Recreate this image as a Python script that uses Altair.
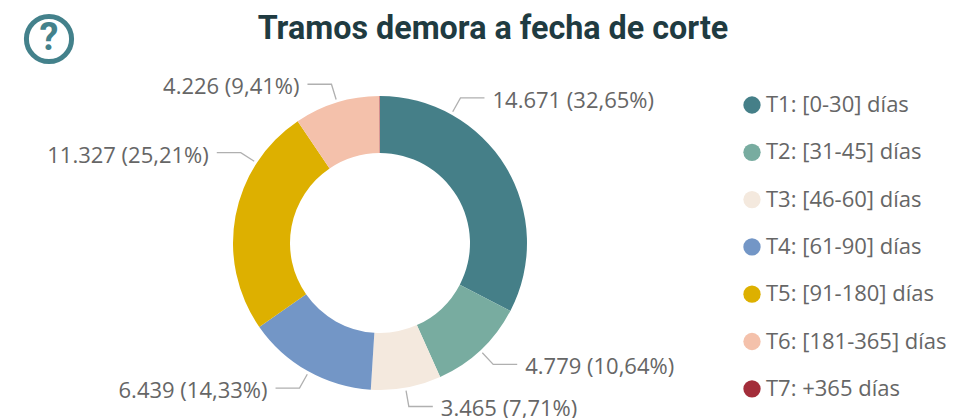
import math
import altair as alt
import pandas as pd

categories = ["T1: [0-30] días", "T2: [31-45] días", "T3: [46-60] días", "T4: [61-90] días",
              "T5: [91-180] días", "T6: [181-365] días", "T7: +365 días"]
values = [14671, 4779, 3465, 6439, 11327, 4226, 24]
labels = ["14.671 (32,65%)", "4.779 (10,64%)", "3.465 (7,71%)", "6.439 (14,33%)",
          "11.327 (25,21%)", "4.226 (9,41%)"]
colors = ["#457F88", "#78ACA0", "#F4E9DE", "#7396C6", "#DDB000", "#F4C1AB", "#A32D3A"]
leader_angles = [29, 137, 170, 209, 303, 343]
title = "Tramos demora a fecha de corte"

PAD_TOP = 50
CX, CY = 372, 235 - PAD_TOP
R_OUT, R_IN = 147, 90

df = pd.DataFrame({"cat": categories, "val": values, "ord": range(7)})
scale_color = alt.Scale(domain=categories, range=colors)

donut = alt.Chart(df).mark_arc(outerRadius=R_OUT, innerRadius=R_IN, stroke=None).encode(
    theta=alt.Theta("val:Q", stack=True),
    color=alt.Color("cat:N", scale=scale_color, sort=categories, legend=alt.Legend(
        title=None, orient="none", legendX=733, legendY=36, symbolType="circle",
        symbolSize=300, symbolStrokeWidth=0, labelFont="Open Sans", labelFontSize=22,
        labelColor="#666666", rowPadding=25.3, labelOffset=3, labelLimit=220)),
    order=alt.Order("ord:Q"),
    x=alt.value(CX), y=alt.value(CY),
)

rows, texts = [], []
for i, (a, lab) in enumerate(zip(leader_angles, labels)):
    t = math.radians(a)
    sx = 1 if math.sin(t) > 0 else -1
    x0, y0 = CX + (R_OUT + 3) * math.sin(t), CY - (R_OUT + 3) * math.cos(t)
    x1, y1 = CX + (R_OUT + 19) * math.sin(t), CY - (R_OUT + 19) * math.cos(t)
    x2, y2 = x1 + sx * 24, y1
    rows += [dict(g=i, k=0, x=x0, y=y0), dict(g=i, k=1, x=x1, y=y1), dict(g=i, k=2, x=x2, y=y2)]
    texts.append(dict(x=x2 + sx * 8, y=y2, t=lab, a="left" if sx > 0 else "right"))

leaders = alt.Chart(pd.DataFrame(rows)).mark_line(color="#B0B0B0", strokeWidth=1.3).encode(
    x=alt.X("x:Q", scale=None), y=alt.Y("y:Q", scale=None), detail="g:N", order="k:Q")

tdf = pd.DataFrame(texts)
base_text = dict(font="Open Sans", fontSize=22, color="#666666", baseline="middle", dy=3)
t_r = alt.Chart(tdf[tdf.a == "left"]).mark_text(align="left", **base_text).encode(
    x=alt.X("x:Q", scale=None), y=alt.Y("y:Q", scale=None), text="t:N")
t_l = alt.Chart(tdf[tdf.a == "right"]).mark_text(align="right", **base_text).encode(
    x=alt.X("x:Q", scale=None), y=alt.Y("y:Q", scale=None), text="t:N")

icon_df = pd.DataFrame({"x": [41], "y": [31 - PAD_TOP], "t": ["?"]})
ring = alt.Chart(icon_df).mark_point(shape="circle", filled=False, size=2040, stroke="#43818B",
                                     strokeWidth=5, opacity=1, clip=False).encode(
    x=alt.X("x:Q", scale=None), y=alt.Y("y:Q", scale=None))
qmark = alt.Chart(icon_df).mark_text(font="Roboto", fontWeight="bold", fontSize=38, color="#43818B",
                                     baseline="middle", align="center", clip=False, dy=0).encode(
    x=alt.X("x:Q", scale=None), y=alt.Y("y:Q", scale=None), text="t:N")

chart = alt.layer(donut, leaders, t_r, t_l, ring, qmark).resolve_scale(x="independent", y="independent").properties(
    width=940, height=410 - PAD_TOP,
    padding={"left": 0, "right": 0, "top": PAD_TOP, "bottom": 0},
    autosize=alt.AutoSizeParams(type="none"),
    title=alt.TitleParams(title, font="Roboto", fontSize=32.3, fontWeight="bold", color="#1F3B41",
                          anchor="middle", dx=15, offset=0, dy=39),
).configure_view(stroke=None)

chart.save("out.html", embed_options={"renderer": "svg", "actions": False})
